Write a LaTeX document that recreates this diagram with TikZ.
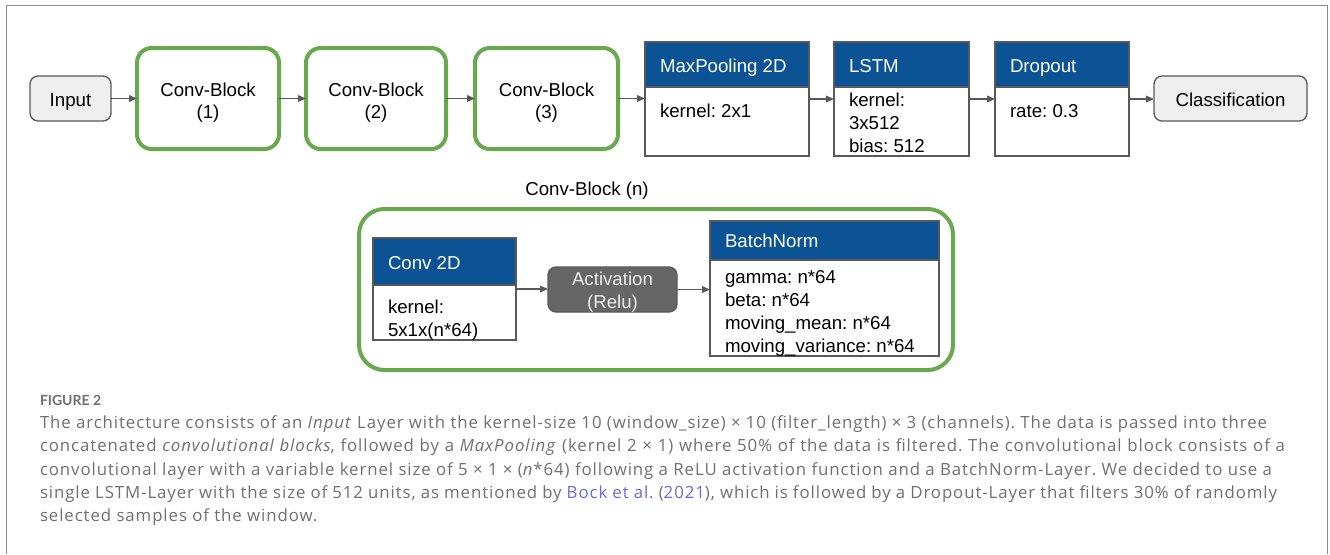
\documentclass[tikz,border=0pt]{standalone}
\usepackage{fontspec}
\setmainfont{Liberation Sans}
\newfontfamily\capfont[LetterSpace=5.5]{Open Sans}
\newfontfamily\figfont{Lato}
\usetikzlibrary{arrows.meta}
\definecolor{cbgreen}{HTML}{6AA84F}
\definecolor{hdblue}{HTML}{0B5394}
\definecolor{bordgray}{HTML}{595959}
\definecolor{inpfill}{HTML}{EFEFEF}
\definecolor{actfill}{HTML}{666666}
\definecolor{acttext}{HTML}{EEEEEE}
\definecolor{framegray}{HTML}{8A8A8A}
\definecolor{captext}{HTML}{707070}
\definecolor{linkcol}{HTML}{6A6AE0}
\newcommand\bx[6]{\node[#2, minimum width={(#5-#3)*0.75pt}, minimum height={(#6-#4)*0.75pt}] (#1) at ({(#3+#5)/2},{(#4+#6)/2}) {};}
\frenchspacing
\begin{document}
\begin{tikzpicture}[x=0.75pt,y=-0.75pt,
  every node/.style={inner sep=0pt, outer sep=0pt},
  htext/.style={font=\fontsize{14}{16}\selectfont, text=white, anchor=base west},
  ltext/.style={font=\fontsize{14}{16}\selectfont, text=black, anchor=base west},
  ctext/.style={font=\fontsize{14}{16}\selectfont, text=black, anchor=base},
  greenblk/.style={draw=cbgreen, line width=3pt, rounded corners=11pt, fill=white},
  termbox/.style={draw=bordgray, line width=1pt, rounded corners=6pt, fill=inpfill},
  bodybox/.style={draw=bordgray, line width=1pt, fill=white},
  headbox/.style={draw=bordgray, line width=1pt, fill=hdblue},
  actbox/.style={draw=bordgray, line width=1pt, rounded corners=6pt, fill=actfill},
  arr/.style={draw=bordgray, line width=1.1pt, -{Triangle[length=6pt,width=5pt]}},
  captxt/.style={font=\capfont\fontsize{12.6}{16}\selectfont, text=captext, anchor=base west},
]
\useasboundingbox (0,0) rectangle (1330,554);
\fill[white] (0,0) rectangle (1330,554);
% frame
\draw[framegray, line width=1.1pt] (6.5,554) -- (6.5,5.5) -- (1327.5,5.5) -- (1327.5,554);

% ---------- top row ----------
\bx{inp}{termbox}{30}{76}{111}{121}
\node[ctext] (inpt) at (70.5,106) {Input};

\bx{cb1}{greenblk}{137}{48}{279}{149}
\node[ctext] (cb1a) at (208,96) {Conv-Block};
\node[ctext] (cb1b) at (208,118) {(1)};

\bx{cb2}{greenblk}{306}{48}{446}{149}
\node[ctext] (cb2a) at (376,96) {Conv-Block};
\node[ctext] (cb2b) at (376,118) {(2)};

\bx{cb3}{greenblk}{475}{48}{618}{149}
\node[ctext] (cb3a) at (546.5,96) {Conv-Block};
\node[ctext] (cb3b) at (546.5,118) {(3)};

\bx{mp}{bodybox}{645}{42}{809}{156}
\bx{mph}{headbox}{645}{42}{809}{87}
\node[htext] (mpt) at (660,72) {MaxPooling 2D};
\node[ltext] (mpb) at (660,117) {kernel: 2x1};

\bx{lstm}{bodybox}{834}{42}{969}{156}
\bx{lstmh}{headbox}{834}{42}{969}{87}
\node[htext] (lstmt) at (849,72) {LSTM};
\node[ltext] (lstmb1) at (849,106) {kernel:};
\node[ltext] (lstmb2) at (849,129) {3x512};
\node[ltext] (lstmb3) at (849,152) {bias: 512};

\bx{dro}{bodybox}{995}{42}{1129}{156}
\bx{droh}{headbox}{995}{42}{1129}{87}
\node[htext] (drot) at (1010,72) {Dropout};
\node[ltext] (drob) at (1010,117) {rate: 0.3};

\bx{cls}{termbox}{1154}{76}{1307}{121}
\node[ctext] (clst) at (1230.5,106) {Classification};

\draw[arr] (inp.east) -- (inp.east -| cb1.west);
\draw[arr] (cb1.east) -- (cb1.east -| cb2.west);
\draw[arr] (cb2.east) -- (cb2.east -| cb3.west);
\draw[arr] (cb3.east) -- (cb3.east -| mp.west);
\draw[arr] (mp.east) -- (mp.east -| lstm.west);
\draw[arr] (lstm.east) -- (lstm.east -| dro.west);
\draw[arr] (dro.east) -- (dro.east -| cls.west);

% ---------- conv block detail ----------
\node[ctext] (cbnt) at (587,195) {Conv-Block (n)};
\bx{cbn}{greenblk, rounded corners=19pt}{359}{209}{953}{370}

\bx{c2d}{bodybox}{373}{238}{516}{340}
\bx{c2dh}{headbox}{373}{238}{516}{285}
\node[htext] (c2dt) at (388,269) {Conv 2D};
\node[ltext] (c2db1) at (388,313) {kernel:};
\node[ltext] (c2db2) at (388,336) {5x1x(n*64)};

\bx{act}{actbox}{548}{267}{677}{312}
\node[ctext, text=acttext] (acta) at (612.5,285) {Activation};
\node[ctext, text=acttext] (actb) at (612.5,308) {(Relu)};

\bx{bn}{bodybox}{710}{221}{939}{356}
\bx{bnh}{headbox}{710}{221}{939}{260}
\node[htext] (bnt) at (725,247) {BatchNorm};
\node[ltext] (bnb1) at (725,283) {gamma: n*64};
\node[ltext] (bnb2) at (725,306) {beta: n*64};
\node[ltext] (bnb3) at (725,329) {moving\_mean: n*64};
\node[ltext] (bnb4) at (725,352) {moving\_variance: n*64};

\draw[arr] (c2d.east) -- (c2d.east -| act.west);
\draw[arr] (act.east) -- (act.east -| bn.west);

% ---------- caption ----------
\node[font=\figfont\bfseries\fontsize{10.5}{12}\selectfont, text=captext, anchor=base west] (fig) at (40,405) {FIGURE 2};
\node[captxt] (cap1) at (40,428.3) {\makebox[920.25pt][s]{The architecture consists of an \textit{Input} Layer with the kernel-size 10 (window\_size) × 10 (filter\_length) × 3 (channels). The data is passed into three}};
\node[captxt] (cap2) at (40,451.7) {\makebox[933.75pt][s]{concatenated \textit{convolutional blocks}, followed by a \textit{MaxPooling} (kernel 2 × 1) where 50\% of the data is filtered. The convolutional block consists of a}};
\node[captxt] (cap3) at (40,475) {\makebox[924pt][s]{convolutional layer with a variable kernel size of 5 × 1 × (\textit{n}*64) following a ReLU activation function and a BatchNorm-Layer. We decided to use a}};
\node[captxt] (cap4) at (40,498.3) {\makebox[927.75pt][s]{single LSTM-Layer with the size of 512 units, as mentioned by {\color{linkcol}Bock et al.} ({\color{linkcol}2021}), which is followed by a Dropout-Layer that filters 30\% of randomly}};
\node[captxt] (cap5) at (40,521.7) {selected samples of the window.};
\end{tikzpicture}
\end{document}
